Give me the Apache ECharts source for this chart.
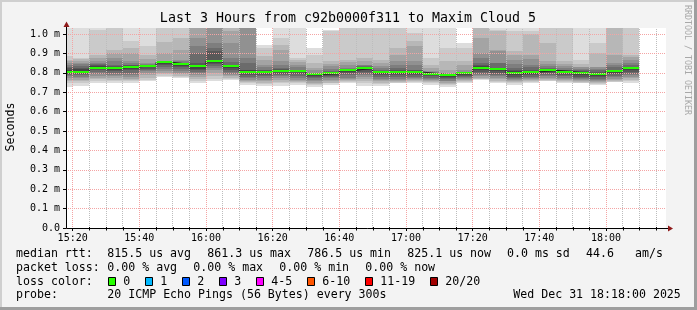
<!DOCTYPE html>
<html><head><meta charset="utf-8">
<script src="https://cdn.jsdelivr.net/npm/echarts@6/dist/echarts.min.js"></script>
<style>html,body{margin:0;padding:0;background:#f3f3f3}#c{width:697px;height:310px}</style>
</head><body><div id="c"></div>
<script>
// ---------------- DATA ----------------
const titleText = 'Last 3 Hours from c92b0000f311 to Maxim Cloud 5';
const yAxisName = 'Seconds';
const sideText = 'RRDTOOL / TOBI OETIKER';
const xRange = ['15:18', '18:18'];
const xMajorTicks = ['15:20','15:40','16:00','16:20','16:40','17:00','17:20','17:40','18:00'];
const xMinorStepMin = 5;
const yTicksUs = [0,100,200,300,400,500,600,700,800,900,1000];
const yMaxUs = 1031;
const stepMinutes = 5;
const stepStarts = ['15:15','15:20','15:25','15:30','15:35','15:40','15:45','15:50','15:55','16:00','16:05','16:10','16:15','16:20','16:25','16:30','16:35','16:40','16:45','16:50','16:55','17:00','17:05','17:10','17:15','17:20','17:25','17:30','17:35','17:40','17:45','17:50','17:55','18:00','18:05'];
// median rtt per step (microseconds)
const medians = [806,806,826,826,831,837,854,844,833,861.3,833,806,806,811,811,792,797,813,823,804,804,804,795,786.5,797,823,818,797,804,813,806,797,792,809,825.1];
// 20 sorted ping rtts per step (microseconds), values above the top are clipped
const pings = [
[728,746,756,765,773,781,788,793,798,802,810,817,824,832,842,851,860,868,885,1090],
[730,748,757,765,772,780,787,792,797,802,810,818,826,835,845,853,862,870,876,1100],
[747,757,766,775,783,795,805,812,818,823,829,833,838,845,852,859,876,893,1022,1100],
[745,756,765,773,782,790,798,808,817,823,829,832,836,842,860,876,900,919,1080,1150],
[750,758,765,770,778,788,800,812,822,829,833,835,838,842,850,859,902,930,962,1100],
[756,765,775,787,798,808,815,822,830,836,838,839,840,842,846,851,870,893,936,1100],
[780,786,792,800,808,818,828,838,846,853,855,855,856,857,858,860,902,960,1080,1150],
[773,778,784,792,800,808,818,828,836,842,846,847,849,851,860,868,919,980,1050,1150],
[748,760,770,780,790,799,805,812,822,830,836,842,851,902,940,979,1050,1100,1150,1200],
[756,770,785,800,815,825,835,845,852,858,864,868,911,930,954,1050,1100,1150,1200,1250],
[765,770,775,782,790,795,805,815,826,831,835,838,842,855,876,954,1014,1060,1100,1150],
[739,745,752,758,765,772,780,790,798,803,809,812,816,850,876,1050,1100,1150,1200,1250],
[734,740,747,756,765,773,782,790,798,804,808,810,812,816,830,842,865,885,928,945],
[734,747,752,763,773,782,788,795,803,809,813,816,820,825,842,859,919,945,979,1100],
[739,745,751,758,765,773,785,795,803,810,812,813,814,816,830,842,855,868,876,1100],
[727,735,742,750,758,765,772,778,785,790,794,795,796,797,799,812,825,851,893,928],
[739,745,750,758,765,773,778,784,790,795,799,800,803,808,820,833,845,859,1018,1022],
[747,751,756,762,768,775,788,798,805,811,815,816,818,820,825,842,855,868,1050,1100],
[734,745,756,770,780,790,795,805,815,821,825,826,828,833,838,842,860,876,1050,1100],
[734,742,750,757,765,770,778,787,795,802,806,808,810,813,825,833,850,868,1050,1100],
[747,750,755,760,765,770,778,787,795,802,806,810,815,825,842,859,890,928,1050,1100],
[749,752,756,762,768,773,780,787,795,802,806,809,812,816,840,859,936,962,1005,1100],
[739,745,752,758,765,768,774,781,788,793,797,798,799,800,803,808,825,842,876,1100],
[727,735,742,750,756,760,768,774,780,785,788,789,789,790,792,800,816,859,928,1100],
[747,751,756,762,768,773,778,784,790,796,798,799,800,802,806,816,840,859,928,954],
[765,767,770,775,782,790,795,802,812,820,826,833,840,851,875,902,979,1040,1080,1150],
[747,752,760,768,775,782,790,800,808,816,820,822,825,848,851,915,919,1018,1022,1100],
[739,745,751,758,765,768,773,780,788,794,800,808,815,825,845,868,890,911,1014,1100],
[749,752,757,762,768,773,780,788,795,802,806,810,816,830,842,870,893,1000,1014,1100],
[756,758,762,768,775,782,790,797,805,811,815,817,820,825,833,845,859,954,1050,1100],
[749,752,757,762,768,773,781,790,798,804,808,810,812,816,825,833,845,859,1050,1100],
[745,750,754,758,762,766,772,780,788,794,800,805,810,815,822,828,832,845,866,1100],
[737,742,747,752,757,763,770,776,782,788,796,800,805,812,820,828,832,900,952,1100],
[752,755,758,762,768,776,784,792,800,807,811,813,815,830,840,849,892,1050,1100,1150],
[750,757,765,772,780,788,796,806,815,822,828,830,832,840,850,866,880,892,1050,1100]
];
const legendRtt = ['median rtt:', '815.5 us avg', '861.3 us max', '786.5 us min', '825.1 us now', '0.0 ms sd', '44.6', 'am/s'];
const legendLoss = ['packet loss:', '0.00 % avg', '0.00 % max', '0.00 % min', '0.00 % now'];
const lossColorTitle = 'loss color:';
const lossLabels = ['0','1','2','3','4-5','6-10','11-19','20/20'];
const lossColors = ['#26ff00','#00b8ff','#0059ff','#7e00ff','#ff00ff','#ff5500','#ff0000','#a10000'];
const legendProbe = ['probe:', '20 ICMP Echo Pings (56 Bytes) every 300s', 'Wed Dec 31 18:18:00 2025'];

// ---------------- STYLE / LAYOUT ----------------
const mono = 'DejaVu Sans Mono';
const smokeColors = ['#dddddd','#cacaca','#b7b7b7','#a4a4a4','#919191','#7e7e7e','#6b6b6b','#585858','#454545','#323232'];
const medianColor = lossColors[0];
const majorGrid = '#f4a4a4';
const minorGrid = '#bdbdbd';
const arrowColor = '#8f1a1a';

const toMin = s => { const p = s.split(':').map(Number); return p[0] * 60 + p[1]; };
const pad = n => (n < 10 ? '0' : '') + n;
const fmtTime = v => pad(Math.floor(v / 60)) + ':' + pad(v % 60);
const xMin = toMin(xRange[0]), xMax = toMin(xRange[1]);
const majorVals = xMajorTicks.map(toMin);
const minorVals = [];
for (let m = majorVals[0]; m < xMax; m += xMinorStepMin) {
  if (majorVals.indexOf(m) < 0) minorVals.push(m);
}

const smokeData = stepStarts.map((s, i) => [toMin(s), toMin(s) + stepMinutes].concat(pings[i]));
const medData = stepStarts.map((s, i) => [toMin(s), toMin(s) + stepMinutes, medians[i]]);
const stepLineData = stepStarts.map((s, i) => [Math.max(toMin(s), xMin), medians[i]]);
stepLineData.push([toMin(stepStarts[stepStarts.length - 1]) + stepMinutes, medians[medians.length - 1]]);

const chart = echarts.init(document.getElementById('c'), null, {renderer: 'canvas', width: 697, height: 310});

const option = {
  animation: false,
  backgroundColor: '#f3f3f3',
  grid: {left: 66, top: 28, width: 600, height: 200, show: true, backgroundColor: '#ffffff', borderWidth: 0, containLabel: false, outerBoundsMode: 'none'},
  xAxis: {type: 'value', min: xMin, max: xMax, position: 'bottom', z: 10,
     axisLine: {show: false},
     axisTick: {show: true, customValues: majorVals, length: 3, lineStyle: {color: '#000', width: 1}},
     axisLabel: {customValues: majorVals, formatter: v => fmtTime(v), fontFamily: mono, fontSize: 10, color: '#000', margin: 5},
     splitLine: {show: true, lineStyle: {color: majorGrid, type: [1, 1], width: 1}}},
  yAxis: {type: 'value', min: 0, max: yMaxUs, z: 10,
    axisLine: {show: false},
    axisTick: {show: true, customValues: yTicksUs, length: 3, lineStyle: {color: '#000', width: 1}},
    axisLabel: {customValues: yTicksUs, formatter: v => v === 0 ? '0.0' : (v / 1000).toFixed(1) + ' m', fontFamily: mono, fontSize: 10, color: '#000', margin: 6},
    splitLine: {show: true, lineStyle: {color: majorGrid, type: [1, 1], width: 1}}},
  series: [
    {type: 'custom', name: 'smoke', z: 1, clip: true, data: smokeData, silent: true,
     encode: {x: [0, 1], y: 2},
     renderItem: (params, api) => {
       const s = Math.max(api.value(0), xMin), e = Math.min(api.value(1), xMax);
       const children = [];
       for (let b = 0; b < 10; b++) {
         const lo = api.value(2 + b), hi = Math.min(api.value(21 - b), yMaxUs);
         const a = api.coord([s, hi]), c = api.coord([e, lo]);
         const x0 = Math.round(a[0]), x1 = Math.round(c[0]);
         const y0 = Math.round(a[1]), y1 = Math.round(c[1]);
         children.push({type: 'rect', shape: {x: x0, y: y0, width: x1 - x0, height: y1 - y0}, style: {fill: smokeColors[b]}});
       }
       return {type: 'group', children};
     }},
    {type: 'line', name: 'median-step', z: 2, step: 'end', showSymbol: false, silent: true,
     data: stepLineData, lineStyle: {color: '#202020', width: 1},
     markLine: {silent: true, symbol: ['none', 'none'], label: {show: false}, animation: false,
       lineStyle: {color: minorGrid, type: [1, 1], width: 1},
       emphasis: {disabled: true},
       data: minorVals.map(v => ({xAxis: v}))}},
    {type: 'custom', name: 'median', z: 3, clip: true, data: medData, silent: true,
     encode: {x: [0, 1], y: 2},
     renderItem: (params, api) => {
       const s = Math.max(api.value(0), xMin), e = Math.min(api.value(1), xMax);
       const a = api.coord([s, api.value(2)]), c = api.coord([e, api.value(2)]);
       const x0 = Math.round(a[0]), x1 = Math.round(c[0]);
       const y = Math.round(a[1]);
       return {type: 'rect', shape: {x: x0, y: y - 1, width: x1 - x0, height: 2}, style: {fill: medianColor}};
     }}
  ]
};
chart.setOption(option);

// ---- chrome: frame, axes with arrows, title and legend ----
const originPx = chart.convertToPixel({gridIndex: 0}, [xMin, 0]);
const cornerPx = chart.convertToPixel({gridIndex: 0}, [xMax, yMaxUs]);
const ax = Math.round(originPx[0]) + 0.5, ay = Math.round(originPx[1]) + 0.5;
const plotRight = Math.round(cornerPx[0]), plotTop = Math.round(cornerPx[1]);
const g = [];
// frame
g.push({type: 'rect', shape: {x: 0, y: 0, width: 697, height: 2}, style: {fill: '#cfcfcf'}, z: 50});
g.push({type: 'rect', shape: {x: 0, y: 0, width: 2, height: 310}, style: {fill: '#cfcfcf'}, z: 50});
g.push({type: 'rect', shape: {x: 0, y: 307, width: 697, height: 3}, style: {fill: '#9e9e9e'}, z: 51});
g.push({type: 'rect', shape: {x: 694, y: 0, width: 3, height: 310}, style: {fill: '#9e9e9e'}, z: 51});
// minor x ticks on the axis
minorVals.forEach(v => {
  const px = Math.round(chart.convertToPixel({gridIndex: 0}, [v, 0])[0]) + 0.5;
  g.push({type: 'line', shape: {x1: px, y1: ay - 1.5, x2: px, y2: ay + 2}, style: {stroke: '#000', lineWidth: 1}, z: 60});
});
// axes
g.push({type: 'line', shape: {x1: ax, y1: ay, x2: plotRight + 2, y2: ay}, style: {stroke: '#000', lineWidth: 1}, z: 60});
g.push({type: 'line', shape: {x1: ax, y1: ay, x2: ax, y2: plotTop - 2}, style: {stroke: '#000', lineWidth: 1}, z: 60});
g.push({type: 'polygon', shape: {points: [[plotRight + 2, ay - 3], [plotRight + 7, ay], [plotRight + 2, ay + 3]]}, style: {fill: arrowColor}, z: 61});
g.push({type: 'polygon', shape: {points: [[ax - 3, plotTop - 1], [ax, plotTop - 6.5], [ax + 3, plotTop - 1]]}, style: {fill: arrowColor}, z: 61});
// title
g.push({type: 'text', x: 348, y: 19, style: {text: titleText, font: '13.3px "' + mono + '"', fill: '#000', textAlign: 'center', textVerticalAlign: 'middle'}, z: 60});
// y name
g.push({type: 'text', x: 11, y: 127, rotation: Math.PI / 2, style: {text: yAxisName, font: '11.6px "' + mono + '"', fill: '#000', textAlign: 'center', textVerticalAlign: 'middle'}, z: 60});
// side text
g.push({type: 'text', x: 687, y: 60, rotation: -Math.PI / 2, style: {text: sideText, font: '8.3px "' + mono + '"', fill: '#a8a8a8', textAlign: 'center', textVerticalAlign: 'middle'}, z: 60});
// legend
const lf = '11.6px "' + mono + '"';
const rttX = [16, 107.3, 207.3, 307.3, 407.3, 507, 586, 635];
legendRtt.forEach((t, i) => g.push({type: 'text', x: rttX[i], y: 254, style: {text: t, font: lf, fill: '#000', textAlign: 'left', textVerticalAlign: 'middle'}, z: 60}));
const lossX = [16, 107.3, 193.3, 279.3, 365.3];
legendLoss.forEach((t, i) => g.push({type: 'text', x: lossX[i], y: 267.8, style: {text: t, font: lf, fill: '#000', textAlign: 'left', textVerticalAlign: 'middle'}, z: 60}));
g.push({type: 'text', x: 16, y: 281.5, style: {text: lossColorTitle, font: lf, fill: '#000', textAlign: 'left', textVerticalAlign: 'middle'}, z: 60});
const boxX = [108.5, 145.5, 182.5, 219.5, 256.5, 307.5, 365.5, 430.5];
lossLabels.forEach((t, i) => {
  g.push({type: 'rect', shape: {x: boxX[i], y: 277.5, width: 7, height: 8}, style: {fill: lossColors[i], stroke: '#000', lineWidth: 1}, z: 60});
  g.push({type: 'text', x: boxX[i] + 14.8, y: 281.5, style: {text: t, font: lf, fill: '#000', textAlign: 'left', textVerticalAlign: 'middle'}, z: 60});
});
const probeX = [16, 107.3, 513.3];
legendProbe.forEach((t, i) => g.push({type: 'text', x: probeX[i], y: 295.3, style: {text: t, font: lf, fill: '#000', textAlign: 'left', textVerticalAlign: 'middle'}, z: 60}));
chart.setOption({graphic: {elements: g}});
</script>
</body></html>
